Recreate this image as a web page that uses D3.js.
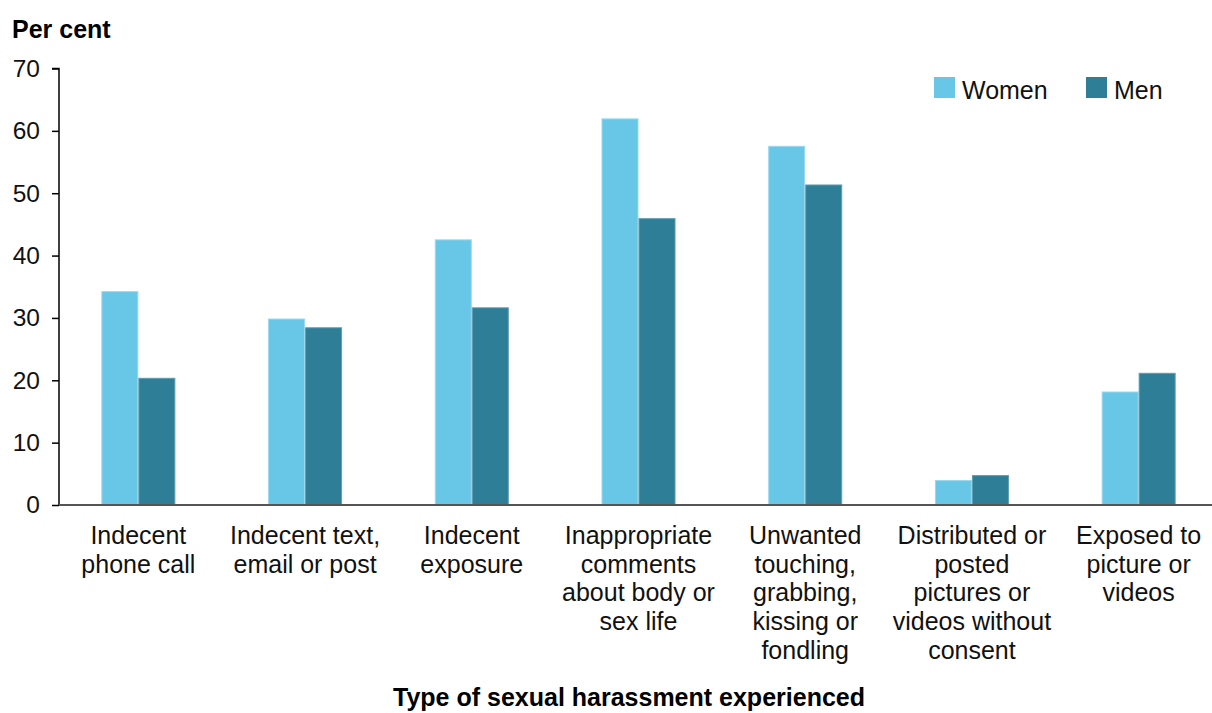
<!DOCTYPE html>
<html>
<head>
<meta charset="utf-8">
<script src="https://cdn.jsdelivr.net/npm/d3@7"></script>
<style>
  html, body { margin: 0; padding: 0; background: #fff; }
  svg { display: block; font-family: "Liberation Sans", Arial, sans-serif; }
</style>
</head>
<body>
<svg id="chart" width="1212" height="713"></svg>
<script>
const categories = [
  "Indecent\nphone call",
  "Indecent text,\nemail or post",
  "Indecent\nexposure",
  "Inappropriate\ncomments\nabout body or\nsex life",
  "Unwanted\ntouching,\ngrabbing,\nkissing or\nfondling",
  "Distributed or\nposted\npictures or\nvideos without\nconsent",
  "Exposed to\npicture or\nvideos"
];
const seriesNames = ["Women", "Men"];
const women = [34.3, 29.9, 42.6, 62.0, 57.6, 4.0, 18.2];
const men   = [20.4, 28.5, 31.7, 46.0, 51.4, 4.8, 21.2];
const yTicks = [0, 10, 20, 30, 40, 50, 60, 70];
const yTitle = "Per cent";
const xTitle = "Type of sexual harassment experienced";

const colors = { Women: "#68C6E6", Men: "#2D7E96" };
const strokes = { Women: "#9ad8ee", Men: "#5f9db0" };

const svg = d3.select("#chart");
const W = 1212, H = 713;

const x = d3.scaleBand().domain(categories).range([55, 1222]).paddingInner(0).paddingOuter(0);
const y = d3.scaleLinear().domain([0, 70]).range([505, 68.5]);
const barW = 37;
const sub = d3.scaleBand().domain(seriesNames).range([-barW, barW]);

const data = categories.map((c, i) => ({ cat: c, Women: women[i], Men: men[i] }));

// Bars
const groups = svg.append("g").selectAll("g").data(data).join("g")
  .attr("transform", d => `translate(${x(d.cat) + x.bandwidth() / 2},0)`);
groups.selectAll("rect")
  .data(d => seriesNames.map(s => ({ s, v: d[s] })))
  .join("rect")
  .attr("x", d => sub(d.s) + 0.5)
  .attr("width", sub.bandwidth() - 1)
  .attr("y", d => y(d.v) + 0.5)
  .attr("height", d => y(0) - y(d.v) - 0.5)
  .attr("fill", d => colors[d.s])
  .attr("stroke", d => strokes[d.s])
  .attr("stroke-width", 1);

// Y axis
const yAxis = svg.append("g")
  .attr("transform", "translate(59,0)")
  .call(d3.axisLeft(y).tickValues(yTicks).tickSize(7).tickPadding(12).tickFormat(d3.format("d")));
yAxis.select(".domain").attr("stroke", "#000").attr("stroke-width", 1.5).attr("d", `M-7,${y(70)}H0V${y(0)}`);
yAxis.selectAll(".tick line").attr("stroke", "#000").attr("stroke-width", 1.5);
yAxis.selectAll(".tick text").attr("font-size", 24.5).attr("fill", "#111")
  .attr("font-family", "Liberation Sans, Arial, sans-serif");

// X baseline
svg.append("line")
  .attr("x1", 59).attr("x2", W)
  .attr("y1", y(0)).attr("y2", y(0))
  .attr("stroke", "#555").attr("stroke-width", 2);

// X category labels
const xl = svg.append("g").selectAll("text").data(categories).join("text")
  .attr("x", d => x(d) + x.bandwidth() / 2)
  .attr("y", 544)
  .attr("text-anchor", "middle")
  .attr("font-size", 25)
  .attr("fill", "#111");
xl.selectAll("tspan").data(d => d.split("\n")).join("tspan")
  .attr("x", function () { return d3.select(this.parentNode).attr("x"); })
  .attr("dy", (d, i) => i === 0 ? 0 : 28.7)
  .text(d => d);

// Titles
svg.append("text").attr("x", 12).attr("y", 38)
  .attr("font-size", 25).attr("font-weight", "bold").attr("fill", "#000")
  .text(yTitle);
svg.append("text").attr("x", 629).attr("y", 706)
  .attr("text-anchor", "middle")
  .attr("font-size", 25).attr("font-weight", "bold").attr("fill", "#000")
  .text(xTitle);

// Legend
const legX = [934, 1086];
const leg = svg.append("g").selectAll("g").data(seriesNames).join("g")
  .attr("transform", (d, i) => `translate(${legX[i]},77)`);
leg.append("rect").attr("width", 21).attr("height", 21).attr("fill", d => colors[d]);
leg.append("text").attr("x", 28).attr("y", 21.5)
  .attr("font-size", 25).attr("fill", "#111").text(d => d);
</script>
</body>
</html>
